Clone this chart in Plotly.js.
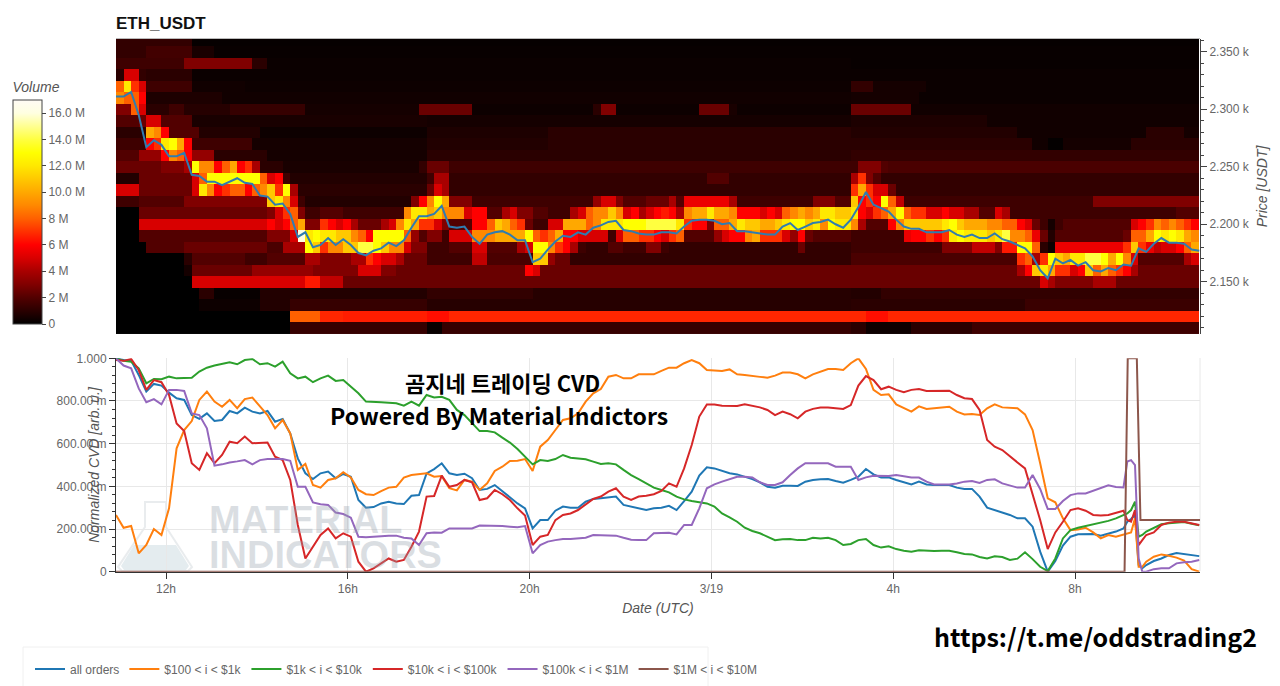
<!DOCTYPE html>
<html><head><meta charset="utf-8">
<script src="https://cdn.plot.ly/plotly-3.0.1.min.js"></script>
<style>html,body{margin:0;padding:0;background:#fff}#chart{width:1280px;height:686px}</style>
</head><body><div id="chart"></div>
<script>
// ---- CVD lines, normalised, in milli-units, 10-minute samples plus three around the spike
const all_orders = [1000,992,989,922,844,880,872,839,813,805,734,716,742,706,711,753,742,769,750,742,753,703,716,648,531,461,434,461,469,438,458,445,336,300,303,320,328,320,317,356,359,461,
481,508,461,453,459,438,383,388,406,378,352,320,297,203,242,242,286,305,300,300,328,341,344,348,352,313,305,297,289,297,300,309,289,331,375,450,489,484,472,461,456,445,434,419,398,394,403,403,402,422,430,433,434,425,417,
430,445,481,456,442,442,430,419,409,422,409,406,406,406,394,388,388,352,300,289,277,266,250,250,211,94,0,50,122,164,175,177,177,169,180,188,203,
234,247,266,31,16,31,50,62,78,87,83,78,73];
const orders_100_1k = [266,206,214,86,125,200,172,297,578,664,706,805,844,797,773,805,766,809,816,773,734,672,711,648,477,505,406,394,430,438,466,442,383,363,359,378,394,398,441,453,456,461,
445,448,391,381,430,422,383,414,472,492,519,520,528,472,586,617,664,711,719,742,797,836,856,914,922,906,906,925,925,925,941,956,956,977,992,977,945,944,941,948,925,922,916,913,909,919,933,933,925,906,925,938,950,950,945,
977,1000,950,852,828,831,784,766,750,775,763,766,769,773,750,737,739,734,766,784,770,769,766,737,664,508,344,325,250,195,198,206,184,156,172,164,175,
180,184,250,23,23,47,70,81,75,66,52,12,0];
const orders_1k_10k = [1000,988,984,953,883,903,902,914,906,906,909,938,956,966,972,981,972,992,997,972,977,961,984,930,906,914,888,906,919,894,898,867,836,797,794,794,792,789,778,797,778,828,
816,820,805,758,734,695,659,659,653,628,605,575,539,503,523,519,528,547,534,531,527,516,505,508,503,477,453,434,414,394,383,372,352,339,331,325,320,305,273,255,234,206,191,180,164,148,152,153,148,148,159,156,159,148,125,
130,148,153,125,113,119,106,98,94,100,97,97,98,98,91,83,81,69,62,72,69,55,61,91,59,23,3,62,156,195,206,214,222,227,238,250,266,
273,289,328,164,172,188,206,222,227,230,233,225,217];
const orders_10k_100k = [992,988,997,945,852,898,888,828,695,659,508,477,555,508,547,609,602,633,602,602,605,539,523,430,219,62,117,172,203,156,180,164,47,0,16,39,62,47,55,117,188,352,
355,450,398,406,430,419,336,344,383,363,336,297,263,125,164,172,242,266,273,289,313,341,352,375,391,352,336,352,356,363,378,414,398,484,594,727,784,784,778,777,777,784,778,770,758,734,750,738,719,750,763,769,769,766,763,
781,872,917,898,855,867,852,841,852,856,847,848,848,848,828,813,809,758,617,586,570,539,512,484,367,242,106,184,234,289,297,286,266,263,266,277,286,
242,234,289,125,148,172,184,219,230,234,234,227,219];
const orders_100k_1M = [1000,966,953,859,794,809,784,852,852,847,742,734,672,497,503,512,517,523,503,523,528,528,528,520,398,398,325,316,313,277,270,253,164,161,164,167,169,169,159,156,125,180,
184,183,203,203,203,203,216,216,214,214,211,208,214,86,125,141,148,153,153,156,159,172,172,169,169,159,150,148,148,180,183,183,175,219,219,297,391,409,422,434,445,445,442,419,406,406,419,453,484,508,508,508,508,492,492,
492,430,442,450,450,448,453,448,441,441,422,409,409,409,413,422,425,416,430,433,414,403,394,394,453,388,294,294,331,359,367,367,380,395,405,397,395,
516,523,500,62,0,0,12,16,16,39,44,47,55];
const orders_1M_10M_hours = [10.9,33.09,33.16,33.36,33.44,34.75];
const orders_1M_10M = [0,0,1000,1000,242,242];
const series_names = ['all orders','$100 < i < $1k','$1k < i < $10k','$10k < i < $100k','$100k < i < $1M','$1M < i < $10M'];
const series_colors = ['#1f77b4','#ff7f0e','#2ca02c','#d62728','#9467bd','#8c564b'];

// ---- price line, USDT, 10-minute samples
const price = [2311,2311,2315,2295,2267,2273,2269,2259,2259,2262,2243,2242,2237,2237,2234,2237,2240,2236,2235,2225,2224,2217,2218,2209,2189,2193,2180,2182,2188,2182,2187,2182,2175,2173,2177,2179,2184,2181,2186,2197,2207,2207,
2209,2216,2198,2197,2198,2189,2183,2191,2193,2194,2191,2186,2186,2167,2170,2178,2185,2190,2189,2193,2191,2197,2199,2202,2203,2195,2194,2192,2191,2191,2193,2193,2192,2198,2203,2204,2204,2203,2200,2201,2194,2194,2193,2192,2191,2191,2198,2201,2195,2198,2201,2202,2204,2200,2197,
2204,2215,2228,2217,2214,2211,2204,2198,2196,2196,2193,2193,2193,2195,2191,2189,2191,2188,2188,2192,2187,2185,2182,2179,2172,2160,2153,2170,2166,2169,2164,2167,2160,2159,2162,2160,2165,2164,2179,2176,2183,2188,2184,2184,2183,2178,2177];

// ---- volume per price row (M USDT); each row lists: first 10-minute bin, volume, next bin, volume ...
const vol_r25=[0,1.2,10,0.15];
const vol_r24=[0,1.2,4,1.6,10,0.6,13,0.2];
const vol_r23=[0,1.5,9,3,18,1,20,0.25,97,0.2];
const vol_r22=[0,1,1,5,3,1.2,4,1,10,0.25];
const vol_r21=[0,8,1,12,2,7,3,5,4,1.5,10,0.4,17,0.3,97,1.2,100,0.5,107,0.25];
const vol_r20=[0,9,1,8,3,6,4,0.7,14,0.4,97,0.5,106,0.25];
const vol_r19=[0,3,2,8,3,5,4,1,7,1.5,9,0.9,15,1.3,25,0.5,40,2.5,47,0.3,63,1,64,3,66,0.3,77,2.5,81,0.6,82,0.3,97,2.5,105,0.4];
const vol_r18=[0,2,3,2.5,4,5,6,2,10,0.6,41,0.5,97,0.7,115,0.4];
const vol_r17=[0,1,4,10,5,9,6,6,7,2,11,0.8,19,0.3,41,0.7,57,1,97,0.8,119,0.4,136,1,141,0.5];
const vol_r16=[0,1.5,4,6,5,7,6,12,7,13,8,10,9,6,10,1.5,18,0.5,41,0.8,57,1,121,0.4,123,0.1,125,0.5,134,1];
const vol_r15=[0,2,3,3.5,6,6,7,9,8,8,9,6,10,3.5,13,1,20,0.5,41,1,97,1.2];
const vol_r14=[0,2.5,6,3,9,4,10,13,11,9,13,6,14,8,15,10,16,6,17,7,18,4,19,1,22,0.6,40,1.2,41,2.5,44,1.5,97,1.5,98,3,101,2,102,1.8];
const vol_r13=[0,0.8,3,2.5,10,5,11,8,12,13,19,8,20,5,21,6,22,1.5,23,0.8,41,1.5,42,4,44,1.2,78,2,81,1.2,97,4,98,7,99,3,100,2,101,1.2];
const vol_r12=[0,5,3,2.5,10,5,11,12,12,9,13,6,14,7,15,8,17,6,18,8,19,9,20,11,21,7,22,13,23,4,24,1,41,2.5,42,5,43,4,44,1.2,97,7,98,10,99,7,100,5,102,2.5,103,1.2];
const vol_r11=[0,1.5,3,2,9,3,20,11,21,12,22,9,23,5,24,1.5,25,0.8,39,3,40,6,41,9,42,13,43,10,44,3,47,1.5,63,3.5,64,5,66,3,67,2,70,2.5,73,4,74,2,75,5.5,81,4,82,1.5,92,3,95,2,97,11,98,6,99,7,100,6,101,13,102,8,103,4.5,104,1.5,129,3];
const vol_r10=[0,0,3,2.5,20,3,21,5,22,7,23,8,24,3,25,1.5,27,2,30,1.5,38,9,39,12,41,10,42,11,43,9,46,5,47,6,49,2,51,4,52,5,53,3,55,2,57,1.5,60,4,61,5,62,8,63,9,65,11,66,9,67,5,68,6,69,4,70,5,71,6,72,6.5,73,6,74,4,75,9,76,10,78,12,79,10,81,9,82,6,85,5,86,6,87,5,88,8,89,9,90,10,91,9,92,10,93,12,95,11,97,12,98,6,99,5,100,7,101,8,102,10,103,13,104,8,105,7,107,5,109,6,110,5,112,4,114,2,116,5,117,4,118,1.5,140,2];
const vol_r09=[0,0,3,5,20,6,21,5,22,6,23,8,24,10,25,3,27,7,28,6,29,5,30,6,31,4,32,2.5,35,4,36,5,37,9,38,12,39,10,40,7,42,5,43,3,44,2,47,6,49,8,50,11,51,10,52,8,53,7,54,2.5,55,1.5,57,5,59,10,62,8,63,9,64,12,67,13,70,14,74,12,75,7,76,6,78,3,79,8,81,10,82,12,83,11,85,10,87,11,88,12,89,13,91,11,92,12,93,9,94,13,95,12,97,9,98,4,99,2,102,6,103,9,104,11,109,12,110,13,111,11,112,10,115,9,117,8,119,6,120,5,121,2.5,122,1.5,123,0.5,124,1.5,125,2,134,5,135,6,136,7,137,9,138,8,139,9,140,8,141,7,142,6];
const vol_r08=[0,0,3,2,20,3,23,5,24,16,25,12,26,13,27,12,29,11,31,9,32,8,33,6,34,13,38,8,39,3.5,40,2,41,3,43,1.5,44,5,47,9,50,10,54,13,55,8,56,7,57,8,58,10,59,6,61,5,65,1.5,66,5,67,8,69,7,71,6,72,5,73,7,74,8,75,2,79,3.5,80,5,81,6,83,9,84,10,85,7,88,5,89,3.5,90,6,91,2.5,92,2,97,1.5,104,5.5,105,6,107,7,108,6,109,7,110,12,111,13,112,12,115,11,116,12,117,14,118,9,120,8,121,5.5,122,2.5,123,0.8,124,2,133,2.5,134,8,136,10,137,13,138,12,139,13,140,12,141,10,142,9];
const vol_r07=[0,0,4,2,9,2.5,20,1.8,22,4,25,13,26,11,27,7,28,9,30,11,32,14,34,13,35,11,36,9,38,5,39,3,41,1.5,44,2,47,5,49,2,53,4,54,5,55,13,57,9,58,7,59,6,60,4,61,1.5,62,1.2,65,2,67,1.5,70,3,72,1.5,73,1.2,90,2.5,91,1.2,97,1.5,109,3,113,4.5,116,3,117,6.5,119,13,121,8,122,1,123,0.3,124,5.5,133,7,134,11,135,7,136,5.5,137,4.5,138,5,140,6,141,8,142,10];
const vol_r06=[0,0,9,1,10,2,17,1.5,20,2,25,4,27,3,31,4,33,7,34,6,35,5,37,4,38,2.5,41,1.5,47,4.5,49,1.8,55,11,57,3.5,58,2.5,60,1.2,97,1.8,119,7,120,8,121,4,122,7,123,13,124,11,125,10,126,12,128,14,130,13,131,10,132,13,133,9,134,5,135,2,141,4,142,5];
const vol_r05=[0,0,9,0.5,10,2.5,18,3.5,26,3,32,5,35,3,37,2.5,54,6,55,5,56,2.5,119,4,120,6,121,11,122,12,123,10,124,7,126,5,127,6,128,11,129,8,130,10,131,8,132,7,133,6,134,4,135,2.5];
const vol_r04=[0,0,10,5,25,6.5,27,4.5,30,2.5,122,5,123,4,124,3,129,4,132,2.5];
const vol_r03=[0,0,11,1,13,0.2,19,0.8,41,1.2,55,0.9,97,0.8,101,1.2];
const vol_r02=[0,0,11,0.3,19,0.8,23,1.3,41,0.9,97,1,120,1.4];
const vol_r01=[0,0,23,8,27,6.8,30,6.6,41,6.3,44,6.8,99,6.3,102,6.8];
const vol_r00=[0,0,23,1.3,41,0.2,43,1.3,97,1,99,0.3,105,1,113,1.5];
const vol_rows=[vol_r00,vol_r01,vol_r02,vol_r03,vol_r04,vol_r05,vol_r06,vol_r07,vol_r08,vol_r09,vol_r10,vol_r11,vol_r12,vol_r13,vol_r14,vol_r15,vol_r16,vol_r17,vol_r18,vol_r19,vol_r20,vol_r21,vol_r22,vol_r23,vol_r24,vol_r25];
const price_rows=vol_rows.map((_,r)=>2109.5+10*r);

// ---- axis labels
const time_ticks=[12,16,20,24,28,32];
const time_labels=['12h','16h','20h','3/19','4h','8h'];
const price_ticks=[2150,2200,2250,2300,2350];
const price_labels=['2.150 k','2.200 k','2.250 k','2.300 k','2.350 k'];
const cvd_ticks=[0,200,400,600,800,1000];
const cvd_labels=['0','200.00 m','400.00 m','600.00 m','800.00 m','1.000'];
const vol_ticks=[0,2,4,6,8,10,12,14,16];
const vol_labels=['0','2 M','4 M','6 M','8 M','10.0 M','12.0 M','14.0 M','16.0 M'];

// ---- helpers
const W=1280,H=686;
const px=x=>x/W, py=y=>(H-y)/H;
const d=h=>new Date(Date.UTC(2022,2,18)+h*3600000).toISOString();
const START=10.9, STEP=1/6, NCOL=143;
const grid=[]; for(let i=0;i<=NCOL;i++) grid.push(START+i*STEP);
const cvd_hours=grid.slice(0,134).concat([33.15,grid[134],33.32,grid[135],33.48],grid.slice(136));
const bin_hours=[]; for(let i=0;i<NCOL;i++) bin_hours.push(START+(i+.5)*STEP);
const z=vol_rows.map(row=>{const out=new Array(NCOL);
  for(let k=0;k<row.length;k+=2){const end=k+2<row.length?row[k+2]:NCOL;for(let j=row[k];j<end;j++)out[j]=row[k+1];}
  return out;});
const hot=[[0,'#000000'],[1,'#2a0000'],[2,'#520000'],[3,'#800000'],[4,'#a80000'],[5,'#d80000'],[6,'#ff0000'],[7,'#ff3000'],[8,'#ff6000'],[9,'#ff8800'],[10,'#ffa800'],[11,'#ffc800'],[12,'#ffe800'],[13,'#ffff00'],[14,'#ffff40'],[15,'#ffff90'],[16,'#ffffe0'],[17,'#fffbf5']].map(s=>[s[0]/17,s[1]]);

const tickFont={family:'"Liberation Sans",Arial,sans-serif',size:12,color:'#666'};
const titleFont={family:'"Liberation Sans",Arial,sans-serif',size:14,color:'#555'};
const xr=[d(START),d(34.75)];

const traces=[{type:'heatmap',x:bin_hours.map(d),y:price_rows,z:z,xaxis:'x2',yaxis:'y2',zmin:0,zmax:17,colorscale:hot,hoverinfo:'skip',showscale:true,
  colorbar:{title:{text:'<i>Volume</i>',side:'top',font:titleFont},tickmode:'array',tickvals:vol_ticks,ticktext:vol_labels,tickfont:tickFont,ticks:'outside',ticklen:4,
    thickness:29,thicknessmode:'pixels',lenmode:'fraction',len:245/H,xref:'container',yref:'container',x:13/W,xanchor:'left',y:py(324),yanchor:'bottom',xpad:0,ypad:0,outlinecolor:'#444',outlinewidth:1,borderwidth:0}},
 {type:'scatter',mode:'lines',x:grid.map(d),y:price,xaxis:'x2',yaxis:'y2',line:{color:'#2f7cb0',width:2},showlegend:false,hoverinfo:'skip'}];
[all_orders,orders_100_1k,orders_1k_10k,orders_10k_100k,orders_100k_1M].forEach((v,i)=>traces.push({type:'scatter',mode:'lines',x:cvd_hours.map(d),y:v,name:series_names[i],line:{color:series_colors[i],width:2},xaxis:'x',yaxis:'y'}));
traces.push({type:'scatter',mode:'lines',x:orders_1M_10M_hours.map(d),y:orders_1M_10M,name:series_names[5],line:{color:series_colors[5],width:2},xaxis:'x',yaxis:'y'});

const wmFont=s=>({family:'"Liberation Sans Narrow","Liberation Sans",Arial,sans-serif',size:s,color:'rgba(150,160,172,0.34)'});
const ann=(t,x,y,f,anchor)=>({text:t,xref:'paper',yref:'paper',x:px(x),y:py(y),xanchor:anchor||'center',yanchor:'middle',showarrow:false,font:f,align:'center'});
const black=(s)=>({family:'"Noto Sans CJK KR","Noto Sans",sans-serif',size:s,color:'#000'});
const pathPx=pts=>pts.map((p,i)=>(i?'L':'M')+px(p[0])+','+py(p[1])).join(' ')+' Z';

const layout={width:W,height:H,paper_bgcolor:'#fff',plot_bgcolor:'rgba(0,0,0,0)',margin:{l:0,r:0,t:0,b:0,autoexpand:false},
 title:{text:'<b>ETH_USDT</b>',x:116/W,xanchor:'left',y:py(23),yanchor:'middle',xref:'container',yref:'container',font:{family:'"Liberation Sans",Arial,sans-serif',size:17,color:'#111'}},
 xaxis:{domain:[116/W,1200/W],anchor:'y',type:'date',range:xr,tickmode:'array',tickvals:time_ticks.map(d),ticktext:time_labels,tickfont:tickFont,ticks:'outside',ticklen:6,tickcolor:'#333',showline:true,linecolor:'#333',linewidth:1,gridcolor:'#e8e8e8',zeroline:false,
   title:{text:'<i>Date (UTC)</i>',font:titleFont,standoff:8}},
 yaxis:{domain:[py(571.7),py(358.3)],anchor:'x',range:[0,1000],tickmode:'array',tickvals:cvd_ticks,ticktext:cvd_labels,tickfont:tickFont,ticks:'outside',ticklen:6,tickcolor:'#333',showline:true,linecolor:'#333',linewidth:1,gridcolor:'#e8e8e8',zeroline:false,
   minor:{tick0:0,dtick:40,ticks:'outside',ticklen:3,tickcolor:'#333',showgrid:false},
   title:{text:'<i>Normalized CVD [arb. u.]</i>',font:titleFont,standoff:8}},
 xaxis2:{domain:[116/W,1200/W],anchor:'y2',type:'date',range:xr,visible:false},
 yaxis2:{domain:[py(334),py(39)],anchor:'x2',side:'right',range:[2104.6,2361],tickmode:'array',tickvals:price_ticks,ticktext:price_labels,tickfont:tickFont,ticks:'outside',ticklen:6,tickcolor:'#444',showline:true,linecolor:'#444',linewidth:1,showgrid:false,zeroline:false,
   minor:{tick0:2100,dtick:10,ticks:'outside',ticklen:3,tickcolor:'#444',showgrid:false},
   title:{text:'<i>Price [USDT]</i>',font:titleFont,standoff:8}},
 legend:{orientation:'h',xref:'paper',yref:'paper',x:px(30),xanchor:'left',y:py(669),yanchor:'middle',font:{family:'"Liberation Sans",Arial,sans-serif',size:12,color:'#666'},bgcolor:'rgba(0,0,0,0)',itemwidth:30,traceorder:'normal'},
 shapes:[
  {type:'rect',xref:'paper',yref:'paper',x0:px(23),x1:px(708),y0:py(647),y1:py(700),line:{color:'#f0f0f0',width:1},fillcolor:'rgba(0,0,0,0)',layer:'below'},
  {type:'line',xref:'paper',yref:'paper',x0:px(1200),x1:px(1200),y0:py(358),y1:py(571),line:{color:'#e8e8e8',width:1},layer:'below'},
  {type:'line',xref:'paper',yref:'paper',x0:px(116),x1:px(1200),y0:py(38.5),y1:py(38.5),line:{color:'#bbb',width:1},layer:'below'},
  {type:'path',xref:'paper',yref:'paper',path:pathPx([[145,502],[166,502],[166,527],[192,567],[188,571],[122,571],[118,567],[145,527]]),line:{color:'#e9ecee',width:2},fillcolor:'rgba(0,0,0,0)',layer:'below'},
  {type:'path',xref:'paper',yref:'paper',path:pathPx([[134,545],[176,545],[189,566],[186,570],[124,570],[121,566]]),line:{width:0},fillcolor:'#e4ecef',layer:'below'}
 ],
 annotations:[
  ann('<b>곰지네 트레이딩 CVD</b>',502,382,black(22)),
  ann('<b>Powered By Material Indictors</b>',498.5,415,black(23)),
  ann('<b>https://t.me/oddstrading2</b>',1095,636,black(25)),
  ann('<b>MATERIAL</b>',207,520,wmFont(38),'left'),
  ann('<b>INDICATORS</b>',207,555,wmFont(38),'left')
 ]};
Plotly.newPlot('chart',traces,layout,{displayModeBar:false,staticPlot:true});
</script></body></html>
